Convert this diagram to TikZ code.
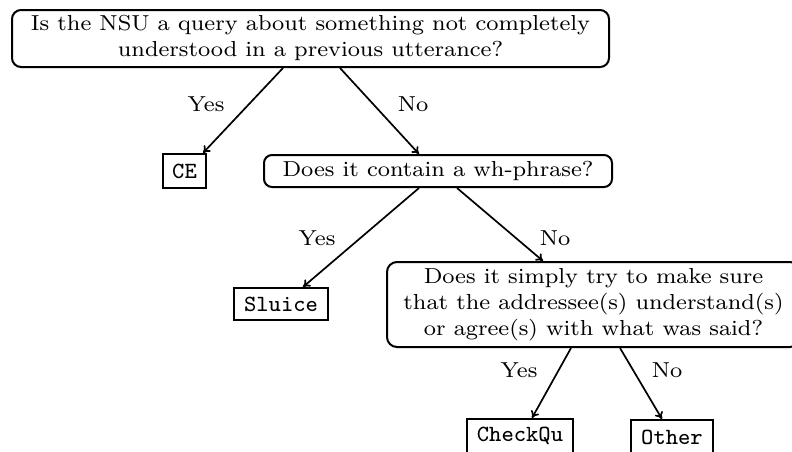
\documentclass[tikz,border=0pt]{standalone}
\usepackage{graphicx}
\usetikzlibrary{arrows.meta}
\newcommand\bigtxt[1]{\scalebox{2.87}[2.71]{\begin{tabular}{@{}c@{}}#1\end{tabular}}}
\newcommand\bigtt[1]{\scalebox{2.9}{\ttfamily #1}}
\begin{document}
\begin{tikzpicture}[x=1pt,y=-1pt,
  every node/.style={font=\fontsize{8}{9.6}\selectfont},
  qbox/.style={draw,line width=2pt,rounded corners=9pt,inner sep=0pt,align=center},
  abox/.style={draw,line width=2pt,inner sep=0pt},
  conn/.style={line width=1.7pt,-{To[length=7pt,width=9pt]}},
  lab/.style={inner sep=0pt}]
\useasboundingbox (0,0) rectangle (792,451);
\node[qbox,minimum width=597pt,minimum height=57pt] (b1) at (310.5,38.5) {\bigtxt{Is the NSU a query about something not completely\\understood in a previous utterance?}};
\node[abox,minimum width=43pt,minimum height=34pt] (ce) at (184.5,171) {\bigtt{CE}};
\node[qbox,rounded corners=8pt,minimum width=348pt,minimum height=32pt] (b2) at (438,171) {\bigtxt{Does it contain a wh-phrase?}};
\node[abox,minimum width=94pt,minimum height=32pt] (sl) at (281,304) {\bigtt{Sluice}};
\node[qbox,rounded corners=10pt,minimum width=413pt,minimum height=85pt] (b3) at (593.5,304.5) {\bigtxt{Does it simply try to make sure\\that the addressee(s) understand(s)\\or agree(s) with what was said?}};
\node[abox,minimum width=106pt,minimum height=34pt] (cq) at (520,436) {\bigtt{CheckQu}};
\node[abox,minimum width=82pt,minimum height=34pt] (ot) at (672,437) {\bigtt{Other}};
\draw[conn] ([xshift=-27.5pt]b1.south) -- ([xshift=18.5pt]ce.north);
\draw[conn] ([xshift=29.5pt]b1.south) -- ([xshift=-19pt]b2.north);
\draw[conn] ([xshift=-19pt]b2.south) -- ([xshift=22pt]sl.north);
\draw[conn] ([xshift=19pt]b2.south) -- ([xshift=-50.5pt]b3.north);
\draw[conn] ([xshift=-22.5pt]b3.south) -- ([xshift=12pt]cq.north);
\draw[conn] ([xshift=26.5pt]b3.south) -- ([xshift=-10pt]ot.north);
\node[lab] (l1) at (206,106) {\bigtxt{Yes}};
\node[lab] (l2) at (413,106) {\bigtxt{No}};
\node[lab] (l3) at (317,240) {\bigtxt{Yes}};
\node[lab] (l4) at (555,240) {\bigtxt{No}};
\node[lab] (l5) at (519,372) {\bigtxt{Yes}};
\node[lab] (l6) at (667,372) {\bigtxt{No}};
\end{tikzpicture}
\end{document}
